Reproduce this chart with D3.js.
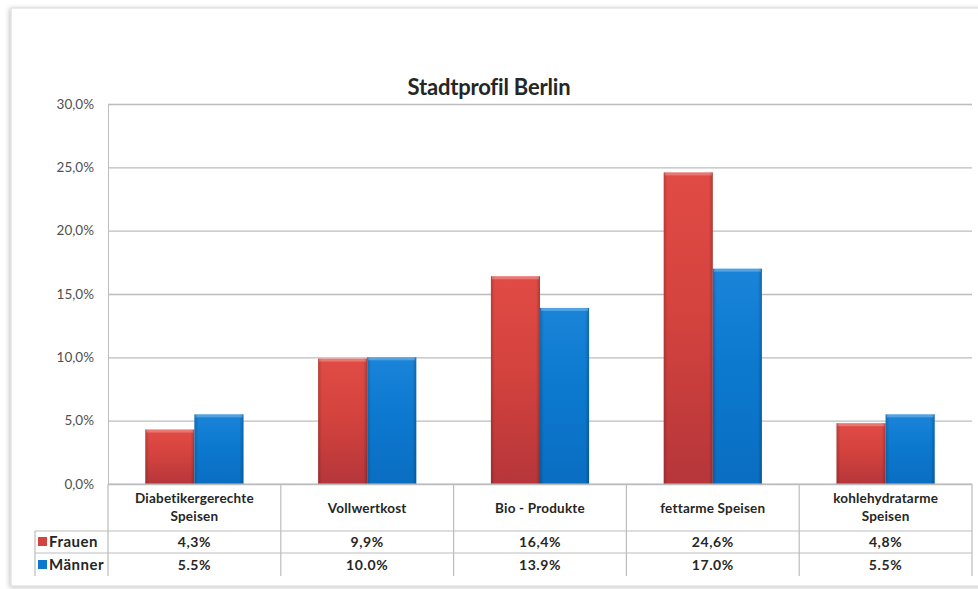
<!DOCTYPE html>
<html>
<head>
<meta charset="utf-8">
<script src="https://cdn.jsdelivr.net/npm/d3@7/dist/d3.min.js"></script>
<style>
	body { margin: 0; background: #fff; }
	svg { display: block; font-family: Lato, "Open Sans", sans-serif; }
</style>
</head>
<body>
<svg id="chart" width="978" height="589"></svg>
<script>
const title = "Stadtprofil Berlin";
const categories = [
	["Diabetikergerechte", "Speisen"],
	["Vollwertkost"],
	["Bio - Produkte"],
	["fettarme Speisen"],
	["kohlehydratarme", "Speisen"],
];
const series = ["Frauen", "Männer"];
const frauen = [4.3, 9.9, 16.4, 24.6, 4.8];
const maenner = [5.5, 10.0, 13.9, 17.0, 5.5];
const decimalSep = [",", "."]; // the table prints Männer with a dot
const yTicks = [0, 5, 10, 15, 20, 25, 30];

const values = [frauen, maenner];
const colors = {
	red: ["#e14b45", "#d4433e", "#b6363a"],
	blue: ["#1a84d8", "#0c79cf", "#0a6ec2"],
	grid: "#bdbdbd",
	text: "#262626",
	axisText: "#505050",
};
const barColors = [colors.red, colors.blue];

const svg = d3.select("#chart");

const mLeft = 108,
	mRight = 972,
	mTop = 104,
	mBottom = 484;

// card frame with soft shadow
const defs = svg.append("defs");
const shadow = defs.append("filter").attr("id", "shadow").attr("x", "-5%").attr("y", "-5%").attr("width", "110%").attr("height", "110%");
shadow.append("feGaussianBlur").attr("in", "SourceAlpha").attr("stdDeviation", 2.5);
shadow.append("feOffset").attr("dx", -1).attr("dy", 1).attr("result", "b");
shadow.append("feFlood").attr("flood-color", "#000").attr("flood-opacity", 0.25);
shadow.append("feComposite").attr("in2", "b").attr("operator", "in");
const merge = shadow.append("feMerge");
merge.append("feMergeNode");
merge.append("feMergeNode").attr("in", "SourceGraphic");

svg.append("rect")
	.attr("x", 11)
	.attr("y", 8)
	.attr("width", 1000)
	.attr("height", 578)
	.attr("fill", "#fff")
	.attr("stroke", "#d8d8d8")
	.attr("filter", "url(#shadow)");

// bar gradients
barColors.forEach((c, i) => {
	const gv = defs.append("linearGradient").attr("id", "grad" + i).attr("x1", 0).attr("x2", 0).attr("y1", 0).attr("y2", 1);
	gv.append("stop").attr("offset", "0%").attr("stop-color", c[0]);
	gv.append("stop").attr("offset", "45%").attr("stop-color", c[1]);
	gv.append("stop").attr("offset", "100%").attr("stop-color", c[2]);
	const gh = defs.append("linearGradient").attr("id", "edge" + i);
	gh.append("stop").attr("offset", "0%").attr("stop-color", "#000").attr("stop-opacity", 0.18);
	gh.append("stop").attr("offset", "8%").attr("stop-color", "#000").attr("stop-opacity", 0);
	gh.append("stop").attr("offset", "92%").attr("stop-color", "#000").attr("stop-opacity", 0);
	gh.append("stop").attr("offset", "100%").attr("stop-color", "#000").attr("stop-opacity", 0.22);
});

const x = d3.scaleBand().domain(d3.range(categories.length)).range([mLeft, mRight]).paddingInner(0).paddingOuter(0);
const xs = d3.scaleBand().domain(d3.range(series.length)).range([0, x.bandwidth()]).paddingInner(0).paddingOuter(0.76);
const y = d3.scaleLinear().domain([0, 30]).range([mBottom, mTop]);

// title
svg.append("text")
	.attr("x", 489)
	.attr("y", 95)
	.attr("text-anchor", "middle")
	.attr("font-size", 22)
	.attr("font-weight", "bold")
	.attr("fill", colors.text)
	.attr("letter-spacing", -0.2)
	.text(title);

// grid + y axis
const yAxis = d3
	.axisLeft(y)
	.tickValues(yTicks)
	.tickSize(-(mRight - mLeft))
	.tickPadding(14)
	.tickFormat((d) => d3.format(".1f")(d).replace(".", ",") + "%");

const gy = svg.append("g").attr("transform", `translate(${mLeft},0)`).call(yAxis);
gy.select(".domain").attr("stroke", colors.grid);
gy.selectAll(".tick line").attr("stroke", colors.grid).attr("stroke-width", 1.3);
gy.selectAll(".tick text").attr("fill", colors.axisText).attr("font-size", 13.5).attr("font-family", "Lato, sans-serif");

// bars
const groups = svg
	.append("g")
	.selectAll("g")
	.data(series)
	.join("g");

groups.each(function (s, si) {
	const g = d3.select(this);
	const data = values[si].map((v, ci) => ({ v, ci }));
	g.selectAll(".bar")
		.data(data)
		.join("rect")
		.attr("class", "bar")
		.attr("x", (d) => x(d.ci) + xs(si))
		.attr("y", (d) => y(d.v))
		.attr("width", xs.bandwidth())
		.attr("height", (d) => y(0) - y(d.v))
		.attr("fill", `url(#grad${si})`);
	g.selectAll(".edge")
		.data(data)
		.join("rect")
		.attr("class", "edge")
		.attr("x", (d) => x(d.ci) + xs(si))
		.attr("y", (d) => y(d.v))
		.attr("width", xs.bandwidth())
		.attr("height", (d) => y(0) - y(d.v))
		.attr("fill", `url(#edge${si})`);
	g.selectAll(".bevel")
		.data(data)
		.join("rect")
		.attr("class", "bevel")
		.attr("x", (d) => x(d.ci) + xs(si) + 1)
		.attr("y", (d) => y(d.v))
		.attr("width", xs.bandwidth() - 2)
		.attr("height", 3)
		.attr("fill", "#fff")
		.attr("opacity", 0.25);
});

// data table
const rowTop = mBottom,
	rowCat = 531,
	rowF = 553,
	rowEnd = 576,
	legendLeft = 35;

const table = svg.append("g").attr("stroke", colors.grid).attr("stroke-width", 1.2);
table.append("line").attr("x1", mLeft).attr("x2", mRight).attr("y1", rowTop).attr("y2", rowTop);
[rowCat, rowF].forEach((yy) => {
	table.append("line").attr("x1", legendLeft).attr("x2", mRight).attr("y1", yy).attr("y2", yy);
});
table.append("line").attr("x1", legendLeft).attr("x2", legendLeft).attr("y1", rowCat).attr("y2", rowEnd);
d3.range(categories.length + 1).forEach((i) => {
	const xx = i < categories.length ? x(i) : mRight;
	table.append("line").attr("x1", xx).attr("x2", xx).attr("y1", rowTop).attr("y2", rowEnd);
});

// category labels
svg.append("g")
	.selectAll("text")
	.data(categories)
	.join("text")
	.attr("x", (d, i) => x(i) + x.bandwidth() / 2)
	.attr("y", (d) => (d.length > 1 ? 503 : 513))
	.attr("text-anchor", "middle")
	.attr("font-size", 13.5)
	.attr("font-weight", "bold")
	.attr("letter-spacing", 0.2)
	.attr("fill", colors.text)
	.selectAll("tspan")
	.data((d) => d)
	.join("tspan")
	.attr("x", function () {
		return d3.select(this.parentNode).attr("x");
	})
	.attr("dy", (d, i) => (i === 0 ? 0 : 18))
	.text((d) => d);

// value rows + legend keys
const rowMid = [rowCat + 16, rowF + 17];
series.forEach((s, si) => {
	svg.append("rect")
		.attr("x", 38)
		.attr("y", rowMid[si] - 10)
		.attr("width", 9)
		.attr("height", 9)
		.attr("fill", barColors[si][1]);
	svg.append("text")
		.attr("x", 49)
		.attr("y", rowMid[si])
		.attr("font-size", 15)
		.attr("font-weight", "bold")
		.attr("letter-spacing", 0.5)
		.attr("fill", colors.text)
		.text(s);
	svg.append("g")
		.selectAll("text")
		.data(values[si])
		.join("text")
		.attr("x", (d, i) => x(i) + x.bandwidth() / 2)
		.attr("y", rowMid[si])
		.attr("text-anchor", "middle")
		.attr("font-size", 14)
		.attr("font-weight", "bold")
		.attr("letter-spacing", 0.6)
		.attr("fill", colors.text)
		.text((d) => d3.format(".1f")(d).replace(".", decimalSep[si]) + "%");
});
</script>
</body>
</html>
